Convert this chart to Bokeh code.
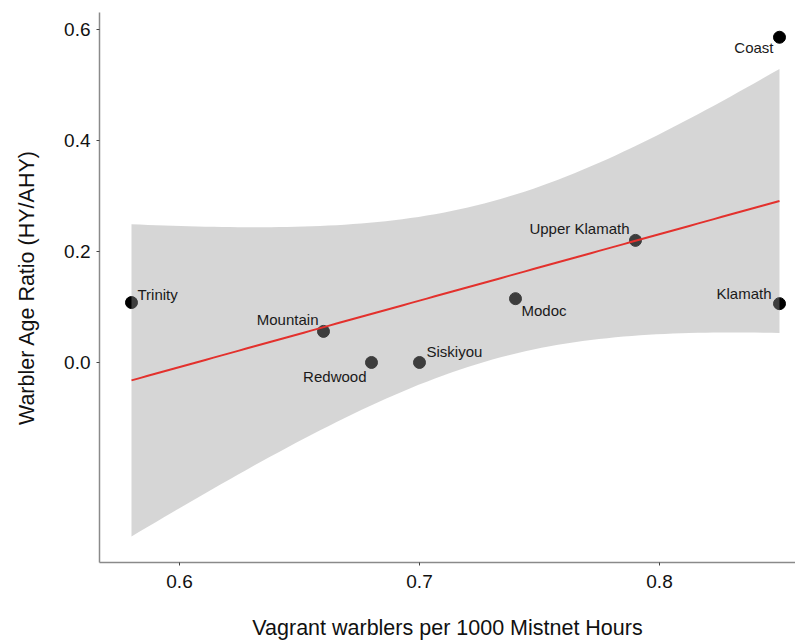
import numpy as np
from bokeh.plotting import figure
from bokeh.models import ColumnDataSource, FixedTicker, Range1d, NumeralTickFormatter
from bokeh.core.properties import value
from bokeh.embed import file_html
from bokeh.resources import INLINE

# ---- data ----
sites = ["Trinity", "Mountain", "Redwood", "Siskiyou", "Modoc", "Upper Klamath", "Klamath", "Coast"]
vagrants = [0.58, 0.66, 0.68, 0.70, 0.74, 0.79, 0.85, 0.85]
age_ratio = [0.108, 0.056, 0.0, 0.0, 0.115, 0.220, 0.106, 0.586]

x_ticks = [0.6, 0.7, 0.8]
y_ticks = [0.0, 0.2, 0.4, 0.6]

# label placement (screen offsets, px) and alignment
label_dx = [6, -5, -5, 7, 6, -6, -8, -6]
label_dy = [-8, -12, 14, -11, 12, -12, -10, 10]
label_align = ["left", "right", "right", "left", "left", "right", "right", "right"]

# ---- linear fit with 95% confidence band (as geom_smooth(method="lm")) ----
xa = np.array(vagrants)
ya = np.array(age_ratio)
n = len(xa)
slope, intercept = np.polyfit(xa, ya, 1)
resid = ya - (intercept + slope * xa)
s = np.sqrt(np.sum(resid ** 2) / (n - 2))
sxx = np.sum((xa - xa.mean()) ** 2)
t_crit = 2.446912  # t(0.975, df=6)
xs = np.linspace(xa.min(), xa.max(), 80)
fit = intercept + slope * xs
se = s * np.sqrt(1.0 / n + (xs - xa.mean()) ** 2 / sxx)
lower = fit - t_crit * se
upper = fit + t_crit * se

FONT = "Liberation Sans"

p = figure(width=795, height=643, output_backend="svg", toolbar_location=None,
           x_range=Range1d(0.56667, 0.85667), y_range=Range1d(-0.3604, 0.6306),
           min_border_left=99, min_border_top=12, min_border_bottom=81, min_border_right=0)
p.outline_line_color = None
p.xgrid.grid_line_color = None
p.ygrid.grid_line_color = None
p.background_fill_color = "white"

pts = ColumnDataSource(dict(x=vagrants, y=age_ratio, name=sites,
                            dx=label_dx, dy=label_dy, align=label_align))

# points (drawn first, band goes over them like ggplot)
p.scatter("x", "y", source=pts, size=12, fill_color="black", line_color="black")

# confidence band
p.varea(x=xs, y1=lower, y2=upper, fill_color="#999999", fill_alpha=0.4)

# regression line
p.line(xs, fit, line_color="#e3312d", line_width=2)

# labels
p.text(x="x", y="y", text="name", source=pts, x_offset="dx", y_offset="dy",
       text_align="align", text_baseline="middle", text_font=value(FONT),
       text_font_size="15px", text_color="#1a1a1a")

# axes
for ax in (p.xaxis[0], p.yaxis[0]):
    ax.axis_line_color = "#8a8a8a"
    ax.axis_line_width = 1.5
    ax.major_tick_line_color = "#444444"
    ax.major_tick_in = 0
    ax.major_tick_out = 3
    ax.minor_tick_line_color = None
    ax.major_label_text_font = FONT
    ax.major_label_text_font_size = "19px"
    ax.major_label_text_color = "#111111"
    ax.axis_label_text_font = FONT
    ax.axis_label_text_font_size = "21.5px"
    ax.axis_label_text_font_style = "normal"
    ax.axis_label_text_color = "#111111"

p.xaxis.ticker = FixedTicker(ticks=x_ticks)
p.yaxis.ticker = FixedTicker(ticks=y_ticks)
p.xaxis.formatter = NumeralTickFormatter(format="0.0")
p.yaxis.formatter = NumeralTickFormatter(format="0.0")
p.xaxis.axis_label = "Vagrant warblers per 1000 Mistnet Hours"
p.yaxis.axis_label = "Warbler Age Ratio (HY/AHY)"
p.xaxis.major_label_standoff = 9
p.yaxis.major_label_standoff = 6
p.xaxis.axis_label_standoff = 25
p.yaxis.axis_label_standoff = 22

open("out.html", "w").write(file_html(p, INLINE))
